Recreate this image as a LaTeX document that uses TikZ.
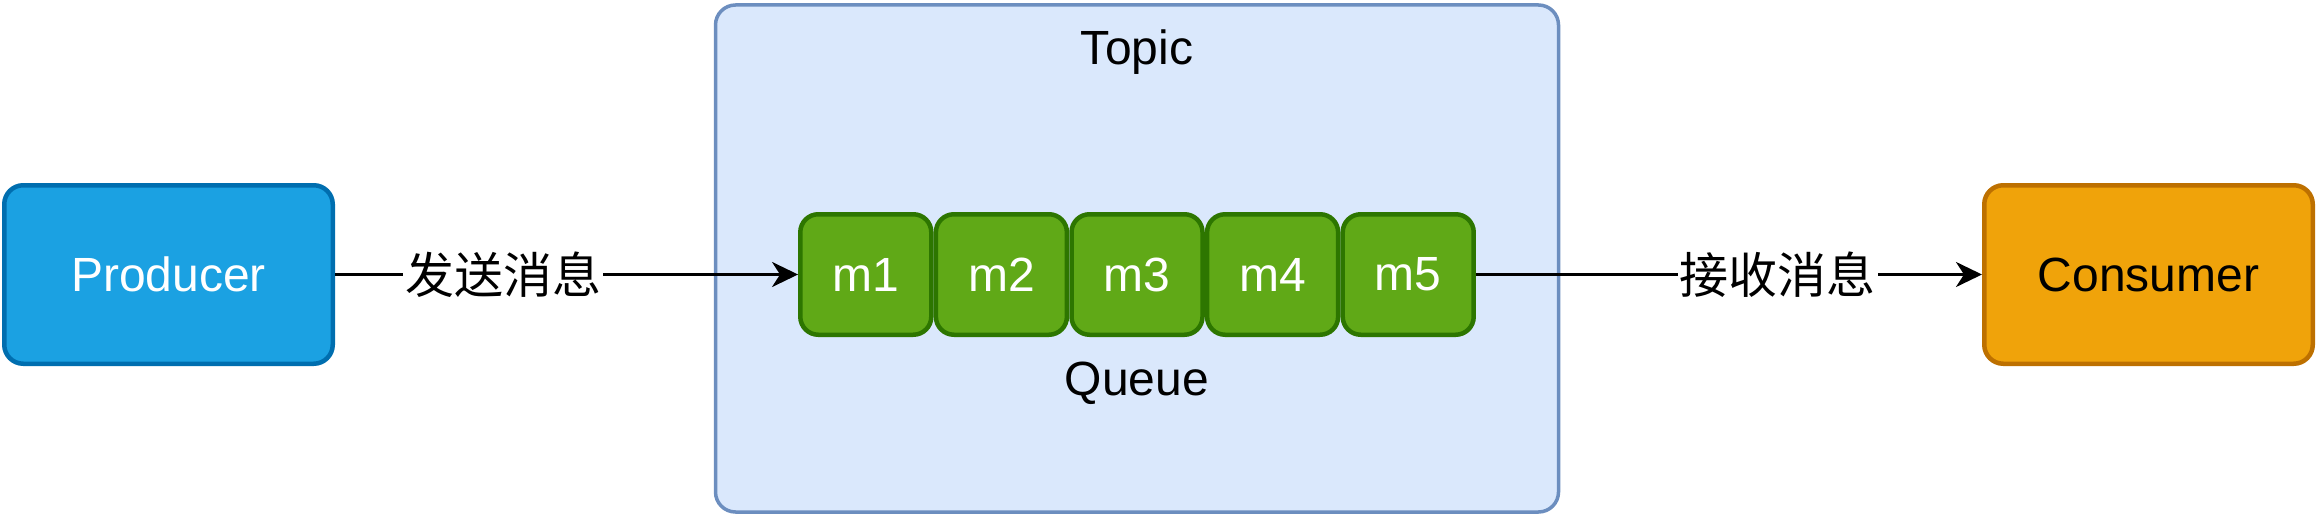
\documentclass[tikz,border=0pt]{standalone}
\usepackage{fontspec}
\setmainfont{Liberation Sans}
\newfontfamily\cjk{Noto Sans CJK SC}
\usetikzlibrary{arrows.meta}
\definecolor{prodfill}{HTML}{1BA1E2}
\definecolor{prodline}{HTML}{006EAF}
\definecolor{topicfill}{HTML}{DAE8FC}
\definecolor{topicline}{HTML}{6C8EBF}
\definecolor{msgfill}{HTML}{60A917}
\definecolor{msgline}{HTML}{2D7600}
\definecolor{consfill}{HTML}{F0A30A}
\definecolor{consline}{HTML}{BD7000}
\tikzset{
  endbox/.style={draw, rounded corners=19pt, line width=4.5pt, minimum width=328.5pt, minimum height=178.5pt, inner sep=0pt},
  prodbox/.style={endbox, fill=prodfill, draw=prodline, text=white},
  consbox/.style={endbox, fill=consfill, draw=consline, text=black},
  topicbox/.style={draw=topicline, fill=topicfill, line width=3.5pt, rounded corners=20pt, minimum width=843pt, minimum height=507pt, inner sep=0pt},
  msgbox/.style={draw=msgline, fill=msgfill, text=white, line width=4.5pt, rounded corners=18pt, minimum width=131pt, minimum height=120.5pt, inner sep=0pt},
  plain/.style={text=black, inner sep=0pt},
  lbl/.style={fill=white, text=black, inner sep=2pt, font=\fontsize{49}{54}\selectfont\cjk},
  arr/.style={line width=3pt, -{Stealth[length=26pt, width=25pt, inset=8pt]}}
}
\begin{document}
\begin{tikzpicture}[x=1pt, y=-1pt, font=\fontsize{48}{54}\selectfont]
\useasboundingbox (0,0) rectangle (2316,516);
\node[topicbox] (topic) at (1137,258.5) {};
\node[plain, anchor=base] (topiclbl) at (1137,65) {Topic};
\node[plain, anchor=base] (queuelbl) at (1137,395) {Queue};
\node[prodbox] (producer) at (168.5,274.5) {Producer};
\node[consbox] (consumer) at (2148.5,274.5) {Consumer};
\node[msgbox] (m1) at (865.8,274.5) {m1};
\node[msgbox] (m2) at (1001.4,274.5) {m2};
\node[msgbox] (m3) at (1137,274.5) {m3};
\node[msgbox] (m4) at (1272.6,274.5) {m4};
\node[msgbox] (m5) at (1408.2,274.5) {m5};
\draw[arr] (producer.east) -- node[lbl, pos=0.363] {发送消息} (m1.west);
\draw[arr] (m5.east) -- node[lbl, pos=0.596] {接收消息} (consumer.west);
\end{tikzpicture}
\end{document}
